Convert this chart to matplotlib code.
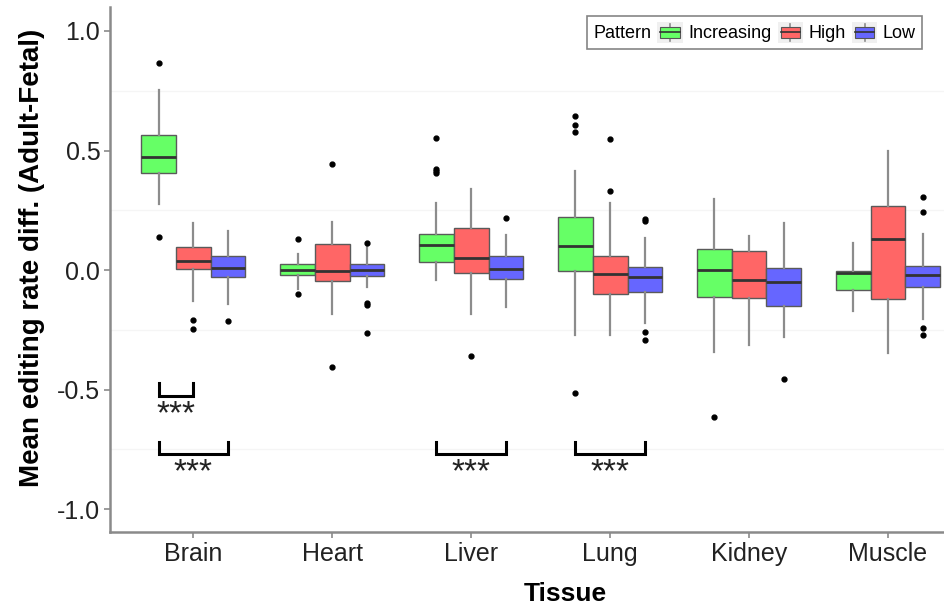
import matplotlib
matplotlib.use("Agg")
import matplotlib.pyplot as plt
from matplotlib.patches import Rectangle, Patch
from matplotlib.lines import Line2D
from matplotlib.legend_handler import HandlerBase

plt.rcParams['font.family'] = ['Liberation Sans', 'DejaVu Sans']
plt.rcParams['axes.unicode_minus'] = False

tissues = ['Brain', 'Heart', 'Liver', 'Lung', 'Kidney', 'Muscle']
patterns = ['Increasing', 'High', 'Low']
colors = ['#66ff66', '#ff6666', '#6666ff']

# box stats (whisker low, q1, median, q3, whisker high, outliers)
inc_lo = [0.276, -0.081, -0.042, -0.273, -0.341, -0.170]
inc_q1 = [0.405, -0.021, 0.035, -0.003, -0.111, -0.084]
inc_med = [0.472, 0.001, 0.103, 0.102, 0.000, -0.011]
inc_q3 = [0.564, 0.025, 0.149, 0.220, 0.088, -0.003]
inc_hi = [0.752, 0.067, 0.281, 0.413, 0.299, 0.114]
inc_out = [[0.864, 0.138], [0.128, -0.101], [0.552, 0.422, 0.413, 0.406],
           [0.646, 0.605, 0.577, -0.515], [-0.614], []]

high_lo = [-0.128, -0.184, -0.185, -0.273, -0.313, -0.345]
high_q1 = [0.003, -0.047, -0.011, -0.100, -0.115, -0.122]
high_med = [0.038, -0.004, 0.049, -0.015, -0.042, 0.128]
high_q3 = [0.097, 0.111, 0.177, 0.058, 0.079, 0.270]
high_hi = [0.196, 0.202, 0.338, 0.281, 0.142, 0.497]
high_out = [[-0.209, -0.246], [0.443, -0.404], [-0.358], [0.547, 0.330], [], []]

low_lo = [-0.142, -0.070, -0.153, -0.223, -0.278, -0.206]
low_q1 = [-0.030, -0.024, -0.039, -0.092, -0.149, -0.070]
low_med = [0.007, 0.001, 0.003, -0.029, -0.049, -0.022]
low_q3 = [0.058, 0.025, 0.058, 0.014, 0.007, 0.018]
low_hi = [0.163, 0.100, 0.146, 0.135, 0.198, 0.150]
low_out = [[-0.213], [0.112, -0.139, -0.145, -0.262], [0.218],
           [0.213, 0.207, -0.258, -0.292], [-0.454], [0.306, 0.241, -0.242, -0.271]]

# significance brackets: (tissue index, from group, to group, level)
sig_brackets = [(0, 0, 1, -0.526), (0, 0, 2, -0.770), (2, 0, 2, -0.770), (3, 0, 2, -0.770)]
sig_label = '***'

series = [
    (inc_lo, inc_q1, inc_med, inc_q3, inc_hi, inc_out),
    (high_lo, high_q1, high_med, high_q3, high_hi, high_out),
    (low_lo, low_q1, low_med, low_q3, low_hi, low_out),
]

fig = plt.figure(figsize=(9.45, 6.05), dpi=100)
ax = fig.add_axes([110 / 945, 73 / 605, 835 / 945, 525 / 605])

width = 0.25
offsets = [-0.25, 0.0, 0.25]

for k, (lo, q1, med, q3, hi, out) in enumerate(series):
    stats = []
    for i in range(len(tissues)):
        stats.append(dict(whislo=lo[i], q1=q1[i], med=med[i], q3=q3[i],
                          whishi=hi[i], fliers=out[i]))
    pos = [i + 1 + offsets[k] for i in range(len(tissues))]
    ax.bxp(stats, positions=pos, widths=width, patch_artist=True, showcaps=False,
           boxprops=dict(facecolor=colors[k], edgecolor='#5a5a5a', linewidth=1.0),
           medianprops=dict(color='#333333', linewidth=2.0),
           whiskerprops=dict(color='#8c8c8c', linewidth=1.6),
           flierprops=dict(marker='o', markersize=3.5, markerfacecolor='black',
                           markeredgecolor='black'),
           zorder=3)

# brackets
for t, g0, g1, yb in sig_brackets:
    x0 = t + 1 + offsets[g0]
    x1 = t + 1 + offsets[g1]
    ax.plot([x0, x0, x1, x1], [yb + 0.053, yb, yb, yb + 0.053], color='black',
            lw=2.2, solid_joinstyle='miter', zorder=4)
    ax.text((x0 + x1) / 2, yb - 0.012, sig_label, ha='center', va='top',
            fontsize=24, color='#222222', zorder=4)

ax.set_xlim(0.4, 6.41)
ax.set_ylim(-1.095, 1.10)
ax.set_xticks(range(1, len(tissues) + 1))
ax.set_xticklabels(tissues)
ax.set_yticks([-1.0, -0.5, 0.0, 0.5, 1.0])
ax.set_yticklabels(['-1.0', '-0.5', '0.0', '0.5', '1.0'])
for yg in [-0.75, -0.25, 0.25, 0.75]:
    ax.axhline(yg, color='#f5f5f5', lw=1.0, zorder=0)

for s in ['top', 'right']:
    ax.spines[s].set_visible(False)
for s in ['left', 'bottom']:
    ax.spines[s].set_color('#8a8a8a')
    ax.spines[s].set_linewidth(1.8)
ax.tick_params(axis='both', colors='#8a8a8a', length=4, width=1.2,
               labelsize=18, labelcolor='#222222', pad=3)

ax.set_xlabel('Tissue', fontsize=19, fontweight='bold')
ax.xaxis.set_label_coords(0.545, -0.095)
ax.set_ylabel('Mean editing rate diff. (Adult-Fetal)', fontsize=20, fontweight='bold')
ax.yaxis.set_label_coords(-0.078, 0.522)


class BoxHandler(HandlerBase):
    def create_artists(self, legend, orig_handle, xdescent, ydescent, width, height,
                       fontsize, trans):
        fc = orig_handle.get_facecolor()
        x = -xdescent
        y = -ydescent
        bg = Rectangle((x, y), width, height, facecolor='#f0f0f0',
                       edgecolor='none', transform=trans)
        cx = x + width / 2
        wh = Line2D([cx, cx], [y + 1, y + height - 1], color='#8c8c8c', lw=1.2,
                    transform=trans)
        box = Rectangle((x + 2, y + height * 0.25), width - 4, height * 0.5,
                        facecolor=fc, edgecolor='#555555', lw=0.8, transform=trans)
        med = Line2D([x + 2, x + width - 2], [y + height / 2, y + height / 2],
                     color='#333333', lw=1.2, transform=trans)
        return [bg, wh, box, med]


handles = [Patch(facecolor=c) for c in colors]
leg = ax.legend(handles, patterns, ncol=3, title='Pattern', loc='upper right',
                handler_map={Patch: BoxHandler()}, fontsize=13, title_fontsize=13,
                frameon=True, fancybox=False, edgecolor='#666666',
                handlelength=1.4, handleheight=1.35, handletextpad=0.3,
                columnspacing=0.35, borderpad=0.35, borderaxespad=0)
leg.get_frame().set_linewidth(1.2)
# put the legend title inline to the left of the keys
c = leg.get_children()[0]
title_box = c.get_children()[0]
hpack = c.get_children()[1]
c._children = [hpack]
hpack._children = [title_box] + hpack.get_children()
leg.set_bbox_to_anchor((922 / 945, 589 / 605), transform=fig.transFigure)

fig.savefig('out.png', dpi=100, facecolor='white')
